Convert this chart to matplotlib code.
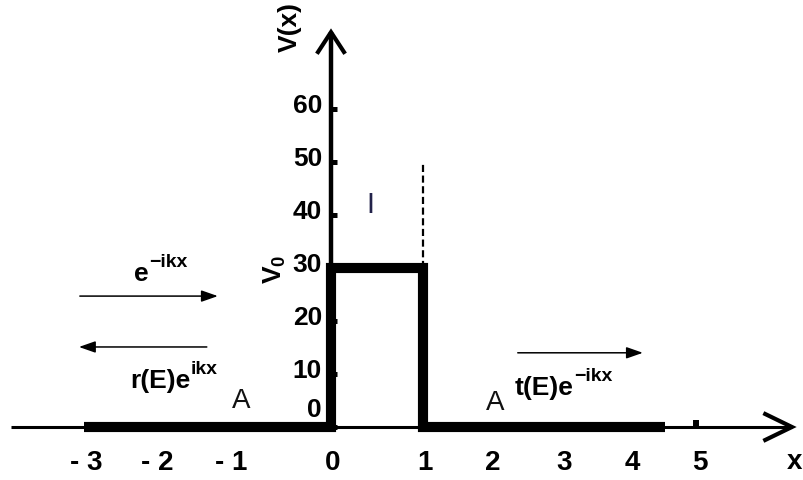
import matplotlib
matplotlib.use("Agg")
import matplotlib.pyplot as plt

plt.rcParams['font.family'] = ['Liberation Sans', 'DejaVu Sans']
plt.rcParams['mathtext.fontset'] = 'custom'
plt.rcParams['mathtext.rm'] = 'Liberation Sans:bold'
plt.rcParams['mathtext.it'] = 'Liberation Sans:bold'
plt.rcParams['mathtext.bf'] = 'Liberation Sans:bold'

# Rectangular barrier potential V(x)
barrier_x = [-2.68, 0.0, 0.0, 1.0, 1.0, 3.63]
barrier_v = [0, 0, 30, 30, 0, 0]
V0 = 30
dashed_top = 50

# Axis labels
xtick_pos = [-2.66, -1.89, -1.09, 0.02, 1.02, 1.76, 2.53, 3.28, 4.01]
xtick_labels = ['- 3', '- 2', '- 1', '0', '1', '2', '3', '4', '5']
ytick_vals = [0, 10, 20, 30, 40, 50, 60]
ytick_labels = ['0', '10', '20', '30', '40', '50', '60']
x_mark = 3.97

# Plane-wave arrows: (start x, end x, level)
incident = (-2.73, -1.23, 24.7)
reflected = (-1.35, -2.74, 15.1)
transmitted = (2.03, 3.39, 14.0)

fig = plt.figure(figsize=(8.04, 4.81), dpi=100)
ax = fig.add_axes([0, 0, 1, 1])
ax.set_xlim(-331 / 92, (804 - 331) / 92)
ax.set_ylim(-53 / 5.3, 428 / 5.3)
ax.axis('off')

k = 'black'
# horizontal axis with open arrow head
ax.plot([-3.48, 5.01], [0, 0], color=k, lw=2.2, solid_capstyle='butt', zorder=2)
ax.plot([4.72, 5.01, 4.72], [2.45, 0, -2.45], color=k, lw=3.0,
        solid_joinstyle='miter', zorder=2)
# vertical axis with open arrow head
ax.plot([0, 0], [0, 74.5], color=k, lw=3.2, solid_capstyle='butt', zorder=2)
ax.plot([-0.141, 0, 0.141], [70.75, 74.5, 70.75], color=k, lw=3.0,
        solid_joinstyle='miter', zorder=2)

# tick stubs on the V axis
for v in ytick_vals:
    ax.plot([0, 0.06], [v, v], color=k, lw=3.6, solid_capstyle='butt', zorder=2)
# small mark at x = 5
ax.plot([x_mark, x_mark], [0, 1.3], color=k, lw=4.3, solid_capstyle='butt', zorder=2)

# the potential
ax.plot(barrier_x, barrier_v, color=k, lw=7.3, solid_joinstyle='miter',
        solid_capstyle='butt', zorder=3)
ax.plot([1, 1], [V0, dashed_top], color=k, lw=1.6, linestyle=(0, (3.2, 1.6)), zorder=3)

# tick labels
for p, lab in zip(xtick_pos, xtick_labels):
    ax.text(p, -6.6, lab, ha='center', va='center', fontsize=20, fontweight='bold')
for v, lab in zip(ytick_vals, ytick_labels):
    ax.annotate(lab, xy=(-0.098, v), xytext=(0, 13 if v == 0 else 3),
                textcoords='offset points', ha='right', va='center',
                fontsize=19, fontweight='bold')

ax.text(5.04, -6.4, 'x', ha='center', va='center', fontsize=20, fontweight='bold')
ax.text(-0.446, 75.7, 'V(x)', ha='center', va='center', rotation=90,
        fontsize=19, fontweight='bold')
ax.text(-0.609, 30.0, r'$\mathbf{V_0}$', ha='center', va='center', rotation=90,
        fontsize=19)

ax.text(0.424, 42.1, 'I', ha='center', va='center', fontsize=21, color='#22224a')
ax.text(-0.978, 5.1, 'A', ha='center', va='center', fontsize=20, color='#111111')
ax.text(1.79, 4.7, 'A', ha='center', va='center', fontsize=20, color='#111111')


def wave_label(x, y, base, sup):
    t = ax.text(x, y, base, ha='left', va='baseline', fontsize=19, fontweight='bold')
    ax.annotate(sup, xy=(1, y), xycoords=(t, 'data'), xytext=(0.5, 10),
                textcoords='offset points', ha='left', va='baseline',
                fontsize=14, fontweight='bold')


wave_label(-2.141, 27.7, 'e', '\u2212ikx')
wave_label(-2.185, 7.6, 'r(E)e', 'ikx')
wave_label(2.0, 6.2, 't(E)e', '\u2212ikx')

for x0, x1, y in (incident, reflected, transmitted):
    ax.annotate('', xy=(x1, y), xytext=(x0, y),
                arrowprops=dict(arrowstyle='-|>,head_length=1.0,head_width=0.35',
                                lw=1.1, color=k, shrinkA=0, shrinkB=0,
                                mutation_scale=10))

fig.savefig('out.png', dpi=100)
